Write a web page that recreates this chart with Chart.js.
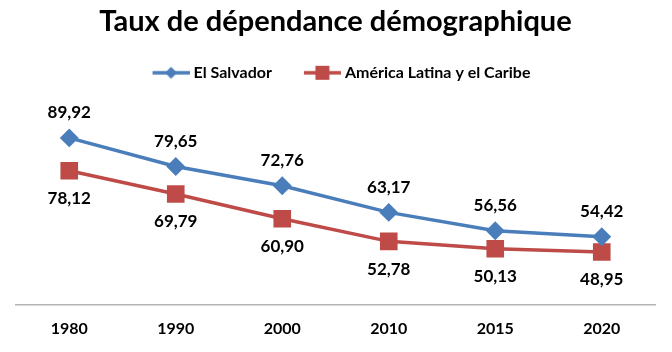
<!DOCTYPE html>
<html>
<head>
<meta charset="utf-8">
<script src="https://cdn.jsdelivr.net/npm/chart.js@4"></script>
<style>
  html, body { margin: 0; padding: 0; background: #fff; }
</style>
</head>
<body>
<canvas id="chart" width="672" height="352"></canvas>
<script>
const years = ['1980', '1990', '2000', '2010', '2015', '2020'];
const elSalvador = [89.92, 79.65, 72.76, 63.17, 56.56, 54.42];
const latinAmerica = [78.12, 69.79, 60.90, 52.78, 50.13, 48.95];

const BLUE = '#4a7ebb';
const RED = '#be4b48';
const FONT = 'Lato, "Open Sans", sans-serif';

// legend icon: line with the marker in the middle (drawn a bit wider than the box)
function legendIcon(color, shape) {
    const c = document.createElement('canvas');
    c.width = 53;
    c.height = 16;
    const g = c.getContext('2d');
    g.strokeStyle = color;
    g.lineWidth = 3.5;
    g.beginPath();
    g.moveTo(16, 8);
    g.lineTo(53, 8);
    g.stroke();
    g.fillStyle = color;
    g.beginPath();
    if (shape === 'diamond') {
        g.moveTo(34.5, 2); g.lineTo(40.5, 8); g.lineTo(34.5, 14); g.lineTo(28.5, 8);
    } else {
        g.rect(27.5, 1, 14, 14);
    }
    g.closePath();
    g.fill();
    return c;
}

const valueLabels = {
    id: 'valueLabels',
    afterDatasetsDraw(chart) {
        const ctx = chart.ctx;
        ctx.save();
        ctx.font = 'bold 17px ' + FONT;
        ctx.fillStyle = '#000';
        ctx.textAlign = 'center';
        ctx.textBaseline = 'middle';
        chart.data.datasets.forEach((ds, i) => {
            const meta = chart.getDatasetMeta(i);
            meta.data.forEach((pt, j) => {
                const txt = ds.data[j].toFixed(2).replace('.', ',');
                const dy = i === 0 ? -25 : 28;
                ctx.fillText(txt, pt.x, pt.y + dy);
            });
        });
        ctx.restore();
    }
};

// push the plot area down a little under the legend
const legendGap = {
    id: 'legendGap',
    beforeInit(chart) {
        const fit = chart.legend.fit;
        chart.legend.fit = function () {
            fit.call(this);
            this.height += 19;
        };
    }
};

new Chart(document.getElementById('chart').getContext('2d'), {
    type: 'line',
    data: {
        labels: years,
        datasets: [{
            label: 'El Salvador',
            data: elSalvador,
            borderColor: BLUE,
            backgroundColor: BLUE,
            borderWidth: 3.5,
            pointStyle: 'rectRot',
            pointRadius: 7,
            pointHoverRadius: 7,
            tension: 0
        }, {
            label: 'América Latina y el Caribe',
            data: latinAmerica,
            borderColor: RED,
            backgroundColor: RED,
            borderWidth: 3.5,
            pointStyle: 'rect',
            pointRadius: 10,
            pointHoverRadius: 10,
            tension: 0
        }]
    },
    options: {
        responsive: false,
        animation: false,
        devicePixelRatio: 1,
        layout: { padding: { left: 16, right: 17, top: 0, bottom: 0 } },
        plugins: {
            title: {
                display: true,
                text: 'Taux de dépendance démographique',
                color: '#000',
                font: { family: FONT, size: 29, weight: 'bold' },
                padding: { top: 4, bottom: 6 }
            },
            legend: {
                display: true,
                labels: {
                    usePointStyle: true,
                    pointStyleWidth: 45,
                    boxHeight: 16,
                    padding: 20,
                    color: '#000',
                    font: { family: FONT, size: 16, weight: 'bold' },
                    generateLabels(chart) {
                        return chart.data.datasets.map((ds, i) => ({
                            text: ds.label,
                            pointStyle: legendIcon(ds.borderColor, i === 0 ? 'diamond' : 'square'),
                            fillStyle: ds.borderColor,
                            strokeStyle: ds.borderColor,
                            lineWidth: 0,
                            hidden: false,
                            datasetIndex: i
                        }));
                    }
                }
            },
            tooltip: { enabled: false }
        },
        scales: {
            x: {
                offset: true,
                grid: { display: false, drawTicks: false },
                border: { display: true, color: '#b3b3b3', width: 1.5 },
                ticks: {
                    color: '#000',
                    padding: 14,
                    font: { family: FONT, size: 16, weight: 'bold' }
                }
            },
            y: {
                display: false,
                min: 30,
                max: 100
            }
        }
    },
    plugins: [valueLabels, legendGap]
});
</script>
</body>
</html>
